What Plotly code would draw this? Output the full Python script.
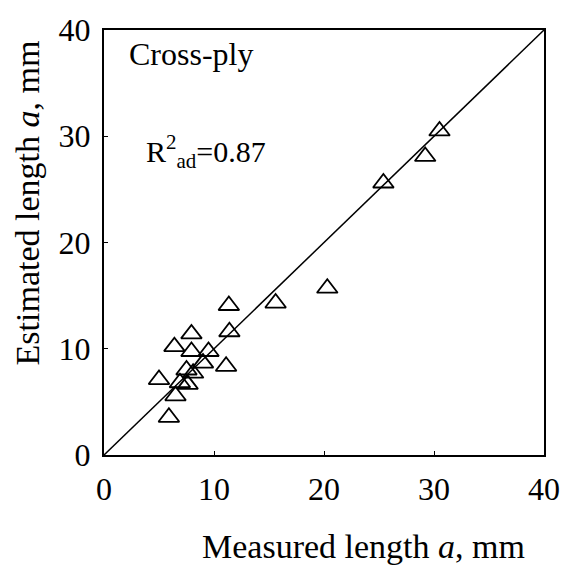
import plotly.graph_objects as go

measured = [11.35, 15.6, 20.3, 25.4, 29.2, 30.5, 7.95, 11.4, 6.4, 7.95, 9.5, 9.0, 11.1, 7.5, 8.1, 5.0, 6.9, 7.6, 6.5, 5.9]
estimated = [14.07, 14.3, 15.7, 25.6, 28.1, 30.5, 11.4, 11.6, 10.2, 9.74, 9.74, 8.65, 8.35, 8.0, 7.7, 7.1, 6.8, 6.65, 5.57, 3.55]
line_x = [0, 40]
line_y = [0, 40]
tick_vals = [0, 10, 20, 30, 40]

FONT = "Liberation Serif"

fig = go.Figure()
fig.add_trace(go.Scatter(x=line_x, y=line_y, mode="lines",
                         line=dict(color="black", width=1.5), showlegend=False))
fig.add_trace(go.Scatter(x=measured, y=estimated, mode="markers",
                         marker=dict(symbol="triangle-up-open", size=18,
                                     color="black", line=dict(width=1.8, color="black")),
                         showlegend=False))

axis_common = dict(range=[0, 40], tickvals=tick_vals, showgrid=False, zeroline=False,
                   showline=True, linecolor="black", linewidth=2, mirror=True,
                   ticks="inside", ticklen=4, tickcolor="black",
                   tickfont=dict(family=FONT, size=32, color="black"))

fig.update_xaxes(**axis_common, ticklabelstandoff=5)
fig.update_yaxes(**axis_common, ticklabelstandoff=5)

# axis titles (placed as in the reference, off-centre toward the far end)
fig.add_annotation(x=0.589, y=-0.216, xref="paper", yref="paper",
                   text="Measured length <i>a</i>, mm", showarrow=False,
                   xanchor="center", yanchor="middle",
                   font=dict(family=FONT, size=34, color="black"))
fig.add_annotation(x=-0.175, y=0.592, xref="paper", yref="paper",
                   text="Estimated length <i>a</i>, mm", showarrow=False, textangle=-90,
                   xanchor="center", yanchor="middle",
                   font=dict(family=FONT, size=34, color="black"))

fig.add_annotation(x=2.1, y=37.7, xref="x", yref="y", text="Cross-ply", showarrow=False,
                   xanchor="left", yanchor="middle",
                   font=dict(family=FONT, size=32, color="black"))
fig.add_annotation(x=3.6, y=28.6, xref="x", yref="y", text="R<sup>2</sup><sub>ad</sub>=0.87",
                   showarrow=False, xanchor="left", yanchor="middle",
                   font=dict(family=FONT, size=30, color="black"))

fig.update_layout(width=575, height=573, plot_bgcolor="white", paper_bgcolor="white",
                  margin=dict(l=104, r=31, t=24, b=118))
fig.write_html("out.html")
